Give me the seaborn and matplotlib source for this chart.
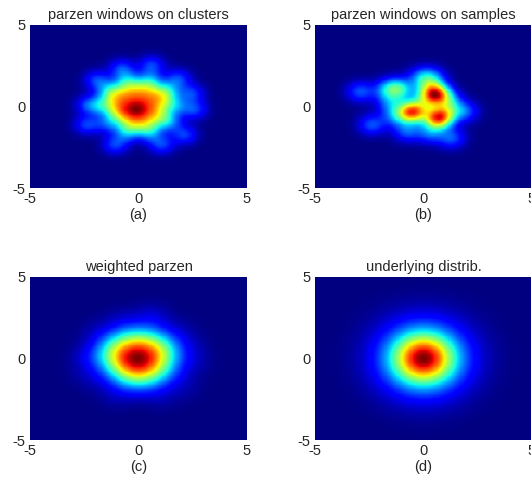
import numpy as np
import matplotlib
matplotlib.use("Agg")
import matplotlib.pyplot as plt
import seaborn as sns

# Cluster centres found on the sample set, with their weights
cluster_x = [0.0, -0.1,
             0.5, 0.25, -0.25, -0.5, -0.25, 0.25,
             0.95, 0.75, 0.3, -0.3, -0.75, -0.95, -0.75, -0.3, 0.3, 0.8,
             1.3, 1.05, 0.4, -0.4, -1.05, -1.3, -1.05, -0.4, 0.4, 1.1,
             1.75, 1.4, 0.55, -0.55, -1.4, -1.75, -1.4, -0.55, 0.55, 1.45,
             -0.78, 0.61, -1.93, 1.84, 2.6, 2.45, 2.14, 1.07, -1.08, -2.39, -2.3]
cluster_y = [0.0, -0.2,
             0.0, 0.45, 0.45, 0.0, -0.45, -0.45,
             0.0, 0.55, 0.9, 0.9, 0.55, 0.0, -0.55, -0.9, -0.9, -0.5,
             0.4, 0.8, 1.25, 1.25, 0.8, 0.4, -0.35, -1.25, -1.25, -0.7,
             0.0, 1.05, 1.65, 1.65, 1.05, 0.0, -1.05, -1.65, -1.65, -1.0,
             2.34, 2.55, 1.63, 1.73, -0.2, 0.8, -1.75, -2.36, -2.36, -1.13, 0.1]
cluster_w = [0.30, 0.10,
             0.28, 0.28, 0.28, 0.28, 0.28, 0.28,
             0.24, 0.24, 0.24, 0.24, 0.24, 0.24, 0.24, 0.24, 0.24, 0.24,
             0.20, 0.20, 0.20, 0.20, 0.20, 0.20, 0.20, 0.20, 0.20, 0.20,
             0.15, 0.15, 0.15, 0.15, 0.15, 0.15, 0.15, 0.15, 0.15, 0.15,
             0.08, 0.15, 0.07, 0.07, 0.08, 0.07, 0.07, 0.07, 0.07, 0.07, 0.14]

# Raw samples
sample_x = [0.55, 0.6, 0.45, 0.7, 0.25,
            -0.55, -0.5, -0.6, -0.45,
            0.68, 0.75, 0.6, 0.7,
            0.05, -1.3, -1.0, -1.7, -0.1, 0.4,
            -0.77, 0.3, 1.2, 1.1, -1.5, -1.3,
            -2.93, -2.39, 1.3, 1.91]
sample_y = [0.72, 0.65, 0.8, 0.8, 1.15,
            -0.32, -0.25, -0.4, -0.4,
            -0.73, -0.7, -0.8, -0.65,
            0.25, 1.2, 1.0, 1.0, 1.8, 1.8,
            -1.54, -1.65, 0.3, -0.3, 0.2, -0.6,
            0.91, -1.13, -1.95, -0.32]

# Underlying distribution: two concentric Gaussian components
true_mix = [0.5, 0.5]
true_sigma_x = [0.85, 1.4]
true_sigma_y = [0.92, 1.52]

h_clusters = 0.42
h_samples = 0.45
h_weighted = 0.6

titles = ["parzen windows on clusters", "parzen windows on samples",
          "weighted parzen", "underlying distrib."]
letters = ["(a)", "(b)", "(c)", "(d)"]
tick_labels = ["-5", "0", "5"]

N = 200
gx = np.linspace(-5, 5, N)
gy = np.linspace(5, -5, N)   # first row is the top of the image
X, Y = np.meshgrid(gx, gy)


def parzen(xs, ys, ws, h):
    Z = np.zeros_like(X)
    for x0, y0, w in zip(xs, ys, ws):
        Z += w * np.exp(-((X - x0) ** 2 + (Y - y0) ** 2) / (2 * h * h))
    return Z


Z_a = parzen(cluster_x, cluster_y, np.ones(len(cluster_x)), h_clusters)
Z_b = parzen(sample_x, sample_y, np.ones(len(sample_x)), h_samples)
Z_c = parzen(cluster_x, cluster_y, cluster_w, h_weighted)
Z_d = np.zeros_like(X)
for p, sx, sy in zip(true_mix, true_sigma_x, true_sigma_y):
    Z_d += p * np.exp(-X ** 2 / (2 * sx ** 2) - Y ** 2 / (2 * sy ** 2))
grids = [Z_a, Z_b, Z_c, Z_d]

plt.rcParams["font.family"] = ["Liberation Sans", "DejaVu Sans"]
W, H = 531, 484
fig = plt.figure(figsize=(W / 100, H / 100), dpi=100)
fig.patch.set_facecolor("white")

# axes boxes in pixels: left, top, width, height
boxes = [(30, 25, 217, 163), (315, 25, 217, 163),
         (30, 277, 217, 163), (315, 277, 217, 163)]

text_color = "#262626"
for Z, title, letter, (l, t, w, h) in zip(grids, titles, letters, boxes):
    ax = fig.add_axes([l / W, 1 - (t + h) / H, w / W, h / H])
    sns.heatmap(Z / Z.max(), ax=ax, cmap="jet", vmin=0, vmax=1, cbar=False,
                xticklabels=False, yticklabels=False, rasterized=True)
    ax.set_xticks([0, N / 2, N])
    ax.set_xticklabels(tick_labels)
    ax.set_yticks([0, N / 2, N])
    ax.set_yticklabels(tick_labels[::-1])
    ax.tick_params(length=0, labelsize=10.5, colors=text_color, pad=3)
    plt.setp(ax.get_yticklabels(), rotation=0)
    plt.setp(ax.get_xticklabels(), rotation=0)
    for s in ax.spines.values():
        s.set_visible(False)
    ax.set_title(title, fontsize=10.5, color=text_color, pad=4)
    ax.set_xlabel(letter, fontsize=10.5, color=text_color, labelpad=1)

fig.savefig("out.png", dpi=100, facecolor="white")
